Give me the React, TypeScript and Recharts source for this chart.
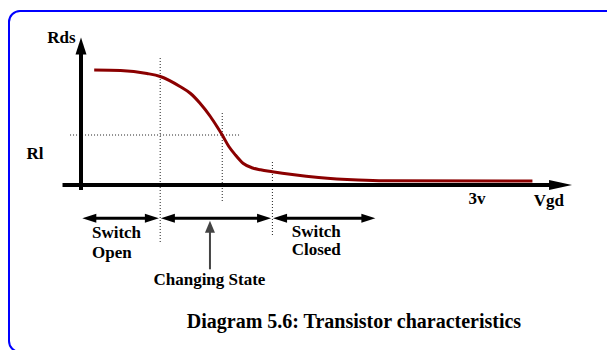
import {
  ComposedChart,
  Line,
  XAxis,
  YAxis,
  ReferenceLine,
  ReferenceDot,
} from "recharts";

// Rds vs Vgd curve (Vgd in volts, Rds in arbitrary units)
const vgd = [0.1, 0.3, 0.5, 0.6, 0.75, 0.83, 0.9, 0.98, 1.03, 1.07, 1.12, 1.17, 1.23, 1.3, 1.36, 1.45, 1.6, 1.8, 2.1, 2.3, 3.42];
const rds = [11.5, 11.45, 11.15, 10.85, 9.85, 9.15, 8.2, 6.85, 5.85, 5.0, 3.85, 3.0, 2.15, 1.7, 1.52, 1.33, 1.05, 0.75, 0.5, 0.43, 0.4];

// switching regions
const rlLevel = 5;
const openEdge = 0.6;
const midPoint = 1.07;
const closedEdge = 1.45;
const closedEnd = 2.23;

// axis tick
const voltTicks = [3];
const voltTickLabels = ["3v"];

const W = 607;
const H = 350;
const FONT = "'Liberation Serif', 'Times New Roman', serif";

type ArrowOpts = {
  width: number;
  head: number;
  half: number;
  color: string;
  start?: boolean;
  end?: boolean;
};

// shape for a ReferenceLine segment drawn as an arrow
function arrow(o: ArrowOpts) {
  return (p: any) => {
    const { x1, y1, x2, y2 } = p;
    const dx = x2 - x1;
    const dy = y2 - y1;
    const len = Math.hypot(dx, dy) || 1;
    const ux = dx / len;
    const uy = dy / len;
    const nx = -uy;
    const ny = ux;
    const tri = (tx: number, ty: number, dir: number) => {
      const bx = tx - dir * ux * o.head;
      const by = ty - dir * uy * o.head;
      return `${tx},${ty} ${bx + nx * o.half},${by + ny * o.half} ${bx - nx * o.half},${by - ny * o.half}`;
    };
    const s = o.start ? o.head * 0.8 : 0;
    const e = o.end ? o.head * 0.8 : 0;
    return (
      <g>
        <line
          x1={x1 + ux * s}
          y1={y1 + uy * s}
          x2={x2 - ux * e}
          y2={y2 - uy * e}
          stroke={o.color}
          strokeWidth={o.width}
        />
        {o.start && <polygon points={tri(x1, y1, -1)} fill={o.color} />}
        {o.end && <polygon points={tri(x2, y2, 1)} fill={o.color} />}
      </g>
    );
  };
}

type Note = {
  text: string;
  x: number;
  y: number;
  anchor?: "start" | "middle" | "end";
  size?: number;
};

export default function App() {
  const data = vgd.map((v, i) => ({ v, r: rds[i] }));

  const notes: Note[] = [
    { text: "Rds", x: -0.148, y: 14.2 },
    { text: "Rl", x: -0.348, y: 2.6 },
    ...voltTicks.map((t, i) => ({ text: voltTickLabels[i], x: t, y: -1.9 })),
    { text: "Vgd", x: 3.545, y: -2.1 },
    { text: "Switch", x: 0.083, y: -5.3, anchor: "start" as const },
    { text: "Open", x: 0.083, y: -7.3, anchor: "start" as const },
    { text: "Switch", x: 1.596, y: -5.2, anchor: "start" as const },
    { text: "Closed", x: 1.596, y: -7.0, anchor: "start" as const },
    { text: "Changing State", x: 0.973, y: -10.0 },
    { text: "Diagram 5.6: Transistor characteristics", x: 2.068, y: -14.27, size: 20 },
  ];

  const dotted = { stroke: "#222", strokeWidth: 1, strokeDasharray: "1 2" };
  const rowY = -3.33;

  return (
    <div
      style={{
        position: "absolute",
        left: 0,
        top: 0,
        width: W,
        height: H,
        overflow: "hidden",
        background: "#fff",
      }}
    >
      {/* blue frame */}
      <div
        style={{
          position: "absolute",
          left: 8,
          top: 10,
          width: 640,
          height: 343,
          border: "2px solid #0000ff",
          borderRadius: 12,
          boxSizing: "border-box",
        }}
      />
      <div style={{ position: "absolute", left: 0, top: 0 }}>
        <ComposedChart
          width={W}
          height={H}
          data={data}
          margin={{ top: 0, right: 11.2, bottom: 0, left: 15 }}
        >
          <XAxis type="number" dataKey="v" domain={[-0.5, 3.9]} hide />
          <YAxis type="number" domain={[-16.5, 18.5]} hide />

          {/* dotted guides */}
          <ReferenceLine segment={[{ x: openEdge, y: 12.7 }, { x: openEdge, y: -5.7 }]} {...dotted} />
          <ReferenceLine segment={[{ x: midPoint, y: 7.2 }, { x: midPoint, y: -1.8 }]} {...dotted} />
          <ReferenceLine segment={[{ x: closedEdge, y: 2.3 }, { x: closedEdge, y: -5.2 }]} {...dotted} />
          <ReferenceLine segment={[{ x: -0.083, y: rlLevel }, { x: 1.205, y: rlLevel }]} {...dotted} />

          {/* axes */}
          <ReferenceLine
            segment={[{ x: 0, y: -0.5 }, { x: 0, y: 14.75 }]}
            shape={arrow({ width: 4, head: 17, half: 5.5, color: "#000", end: true })}
          />
          <ReferenceLine
            segment={[{ x: -0.14, y: 0 }, { x: 3.72, y: 0 }]}
            shape={arrow({ width: 4, head: 23, half: 5, color: "#000", end: true })}
          />

          {/* region arrows */}
          <ReferenceLine
            segment={[{ x: 0.01, y: rowY }, { x: openEdge - 0.01, y: rowY }]}
            shape={arrow({ width: 3, head: 14, half: 4.5, color: "#000", start: true, end: true })}
          />
          <ReferenceLine
            segment={[{ x: openEdge + 0.005, y: rowY }, { x: closedEdge - 0.01, y: rowY }]}
            shape={arrow({ width: 3, head: 14, half: 4.5, color: "#000", start: true, end: true })}
          />
          <ReferenceLine
            segment={[{ x: closedEdge + 0.005, y: rowY }, { x: closedEnd, y: rowY }]}
            shape={arrow({ width: 3, head: 14, half: 4.5, color: "#000", start: true, end: true })}
          />
          <ReferenceLine
            segment={[{ x: 0.977, y: -8.43 }, { x: 0.977, y: -3.57 }]}
            shape={arrow({ width: 2, head: 12, half: 5, color: "#444", end: true })}
          />

          <Line
            type="monotone"
            dataKey="r"
            stroke="#8b0000"
            strokeWidth={3}
            dot={false}
            activeDot={false}
            isAnimationActive={false}
          />

          {notes.map((n, i) => (
            <ReferenceDot
              key={i}
              x={n.x}
              y={n.y}
              r={0}
              shape={(p: any) => (
                <text
                  x={p.cx}
                  y={p.cy}
                  textAnchor={n.anchor ?? "middle"}
                  fontFamily={FONT}
                  fontWeight="bold"
                  fontSize={n.size ?? 17}
                  fill="#000"
                >
                  {n.text}
                </text>
              )}
            />
          ))}
        </ComposedChart>
      </div>
    </div>
  );
}
